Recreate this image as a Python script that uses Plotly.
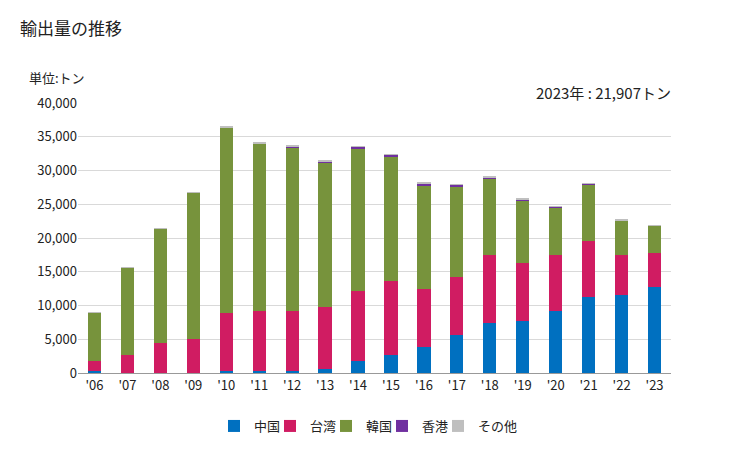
import plotly.graph_objects as go

years = ["'06", "'07", "'08", "'09", "'10", "'11", "'12", "'13", "'14", "'15", "'16", "'17", "'18", "'19", "'20", "'21", "'22", "'23"]
china = [300, 30, 30, 30, 300, 300, 250, 540, 1720, 2710, 3800, 5670, 7350, 7750, 9130, 11300, 11500, 12790]
taiwan = [1520, 2680, 4460, 4950, 8630, 8830, 8880, 9180, 10370, 10860, 8590, 8600, 10180, 8590, 8300, 8200, 6030, 5030]
korea = [7110, 12890, 16890, 21730, 27460, 24890, 24300, 21430, 21140, 18470, 15410, 13330, 11260, 9190, 7110, 8400, 5030, 4000]
hongkong = [0, 0, 0, 0, 0, 0, 150, 200, 300, 300, 290, 300, 200, 200, 150, 150, 30, 20]
other = [70, 80, 70, 80, 100, 100, 60, 80, 100, 90, 90, 90, 70, 80, 50, 80, 110, 67]

series = [("中国", china, "#0070C0", 11), ("台湾", taiwan, "#D01C62", 11), ("韓国", korea, "#77933C", 11),
          ("香港", hongkong, "#7030A0", 11), ("その他", other, "#BFBFBF", 45)]

W, H = 721, 434
L, R, T, B = 70, 58, 95, 69
pw = W - L - R
ph = H - T - B

def px_to_paper(px, py):
    # page pixel coords (body has 8px margin)
    fx, fy = px - 8, py - 8
    return ((fx - L) / pw, (H - B - fy) / ph)

fig = go.Figure()
for name, vals, color, lw in series:
    fig.add_trace(go.Bar(x=years, y=vals, name=name, marker=dict(color=color, line=dict(width=0)),
                         width=0.4, legendwidth=lw))

font = "Noto Sans CJK JP"
ax, ay = px_to_paper(18, 27)
bx, by = px_to_paper(27, 77)
cx, cy = px_to_paper(673, 92)
lx, ly = px_to_paper(214, 426)

fig.update_layout(
    barmode="stack",
    width=W, height=H,
    margin=dict(l=L, r=R, t=T, b=B, autoexpand=False),
    plot_bgcolor="white", paper_bgcolor="white",
    font=dict(family=font, size=13, color="#333333"),
    showlegend=True,
    legend=dict(orientation="h", x=lx, xanchor="left", y=ly, yanchor="middle",
                font=dict(size=13, color="#222222"), itemwidth=30, traceorder="normal"),
    xaxis=dict(showline=True, linecolor="#999999", linewidth=1, ticks="", tickfont=dict(size=13, color="#222222")),
    yaxis=dict(range=[0, 40000], dtick=5000, tickformat=",", gridcolor="#D9D9D9",
               showline=False, zeroline=False, tickfont=dict(size=13, color="#222222"), ticks=""),
    annotations=[
        dict(text="輸出量の推移", xref="paper", yref="paper", x=ax, y=ay, xanchor="left", yanchor="middle",
             showarrow=False, font=dict(size=17, color="#222222")),
        dict(text="単位:トン", xref="paper", yref="paper", x=bx, y=by, xanchor="left", yanchor="middle",
             showarrow=False, font=dict(size=13, color="#222222")),
        dict(text="2023年 : 21,907トン", xref="paper", yref="paper", x=cx, y=cy, xanchor="right",
             yanchor="middle", showarrow=False, font=dict(size=15, color="#222222")),
    ],
)

fig.write_html("out.html")
